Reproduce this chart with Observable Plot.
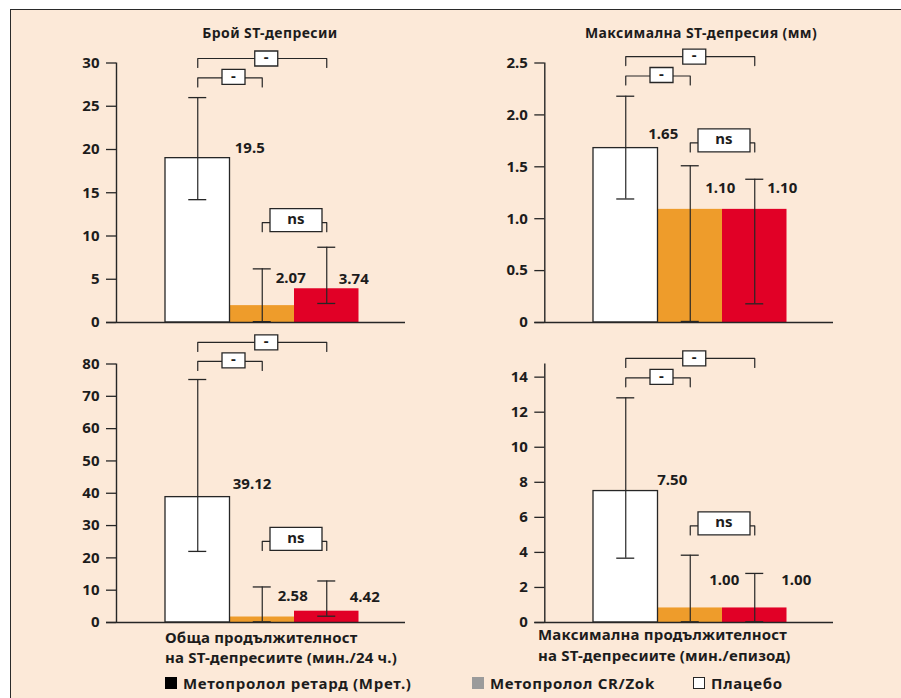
<!DOCTYPE html>
<html lang="bg">
<head>
<meta charset="utf-8">
<script src="https://cdn.jsdelivr.net/npm/d3@7"></script>
<script src="https://cdn.jsdelivr.net/npm/@observablehq/plot@0.6"></script>
<style>
html,body{margin:0;padding:0;background:#fff;}
#root{position:relative;width:901px;height:698px;overflow:hidden;font-family:"Noto Sans",sans-serif;font-weight:bold;color:#1c1c1c;}
#bg{position:absolute;left:10px;top:9px;width:891px;height:689px;background:#fce9d8;border-top:1.5px solid #2a2a2a;border-left:1.5px solid #2a2a2a;box-sizing:border-box;}
.abs{position:absolute;}
.title{font-size:14px;text-align:center;width:360px;line-height:18px;white-space:nowrap;letter-spacing:0.4px;}
.xlab{font-size:15px;line-height:20.5px;white-space:nowrap;letter-spacing:0.2px;}
.leg{font-size:15px;line-height:18px;white-space:nowrap;display:flex;align-items:center;letter-spacing:0.7px;}
.sw{display:inline-block;width:12px;height:12px;margin-right:6px;box-sizing:border-box;}
.panel svg{display:block;}
</style>
</head>
<body>
<div id="root"><div id="bg"></div></div>
<script>
// ---------- data ----------
const groups = ["Плацебо", "Метопролол CR/Zok", "Метопролол ретард"];
const barFills = ["#ffffff", "#ee9c2b", "#e10026"];

const countMean = [19.0, 1.95, 3.9];
const countLow = [14.2, 0.1, 2.2];
const countHigh = [26.0, 6.2, 8.7];
const countText = ["19.5", "2.07", "3.74"];
const countTicks = [0, 5, 10, 15, 20, 25, 30];

const maxDepMean = [1.68, 1.09, 1.09];
const maxDepLow = [1.19, 0.01, 0.18];
const maxDepHigh = [2.18, 1.51, 1.38];
const maxDepText = ["1.65", "1.10", "1.10"];
const maxDepTicks = [0, 0.5, 1, 1.5, 2, 2.5];

const totalMean = [38.8, 1.7, 3.5];
const totalLow = [22.0, 0.2, 1.95];
const totalHigh = [75.2, 11.0, 12.85];
const totalText = ["39.12", "2.58", "4.42"];
const totalTicks = [0, 10, 20, 30, 40, 50, 60, 70, 80];

const maxDurMean = [7.5, 0.83, 0.83];
const maxDurLow = [3.67, 0.04, 0.04];
const maxDurHigh = [12.82, 3.84, 2.8];
const maxDurText = ["7.50", "1.00", "1.00"];
const maxDurTicks = [0, 2, 4, 6, 8, 10, 12, 14];

const yMaxes = [30, 2.5, 80, 14.75];
const sigOuter = [30.52, 2.562, 86.67, 15.07];
const sigInner = [28.27, 2.375, 80.8, 13.96];
const nsLevel = [11.54, 1.73, 25.1, 5.51];
const sigText = ["-", "-", "ns"];

const panelTitles = ["Брой ST-депресии", "Максимална ST-депресия (мм)", "", ""];
const axisTitles = [[], [], ["Обща продължителност", "на ST-депресиите (мин./24 ч.)"],
                    ["Максимална продължителност", "на ST-депресиите (мин./епизод)"]];
const legendLabels = ["Метопролол ретард (Мрет.)", "Метопролол CR/Zok", "Плацебо"];
const legendSwatches = ["#000000", "#9b9b9b", "#ffffff"];

const series = [
  [countMean, countLow, countHigh, countText, countTicks],
  [maxDepMean, maxDepLow, maxDepHigh, maxDepText, maxDepTicks],
  [totalMean, totalLow, totalHigh, totalText, totalTicks],
  [maxDurMean, maxDurLow, maxDurHigh, maxDurText, maxDurTicks]
];

// ---------- layout ----------
const layouts = [
  {left:0, top:40, width:450, height:290, mL:116, mR:45, mT:22.5, mB:8, gap:49, dx:[37,13.5,12], dy:[-10,-27,-10], fmt:d=>String(d)},
  {left:450, top:40, width:451, height:290, mL:94.3, mR:68, mT:22.5, mB:8, gap:48.7, dx:[22.5,15,12.5], dy:[-14,-21,-21], fmt:d=>d===0?"0":d.toFixed(1)},
  {left:0, top:330, width:450, height:300, mL:116, mR:45, mT:33.5, mB:8, gap:49, dx:[35,15.5,23], dy:[-12.7,-20.7,-14], fmt:d=>String(d)},
  {left:450, top:330, width:451, height:300, mL:94.3, mR:68, mT:33.5, mB:8, gap:48.7, dx:[31.5,19,26.5], dy:[-11,-27.7,-27.7], fmt:d=>String(d)}
];
const titlePos = [[270, 24], [701, 24]];
const axisTitlePos = [null, null, [165, 626.5], [538, 624]];
const legendPos = [165, 472, 693];
const ink = "#262626";

const rectSym = (w, h) => ({draw(ctx){ ctx.rect(-w/2, -h/2, w, h); }});

const root = document.getElementById("root");

function panel(p) {
  const L = layouts[p];
  const step = 64.5, u = 1 / step;
  const fw = L.width - L.mL - L.mR;
  const xMin = -0.5 - L.gap * u, xMax = xMin + fw * u;
  const yMax = yMaxes[p];
  const ppu = (L.height - L.mT - L.mB) / yMax;
  const [mean, low, high, text, ticks] = series[p];
  const rows = groups.map((g, i) => ({i, g, v: mean[i], lo: low[i], hi: high[i], t: text[i], fill: barFills[i]}));
  const caps = rows.flatMap(d => [{i: d.i, y: d.lo}, {i: d.i, y: d.hi}]);
  const leg = 9 / ppu;
  const br = [
    {k: 0, a: 0, b: 2, y: sigOuter[p], dx: 4, dy: 0, t: sigText[0]},
    {k: 1, a: 0, b: 1, y: sigInner[p], dx: 3.5, dy: -1, t: sigText[1]},
    {k: 2, a: 1, b: 2, y: nsLevel[p], dx: 1.5, dy: -2.5, t: sigText[2]}
  ];
  const brPts = br.flatMap(b => [
    {k: b.k, x: b.a, y: b.y - leg}, {k: b.k, x: b.a, y: b.y},
    {k: b.k, x: b.b, y: b.y}, {k: b.k, x: b.b, y: b.y - leg}
  ]);
  const boxes = br.map(b => ({k: b.k, t: b.t, x: (b.a + b.b) / 2 + b.dx * u, y: b.y - b.dy / ppu}));

  const chart = Plot.plot({
    width: L.width, height: L.height,
    marginLeft: L.mL, marginRight: L.mR, marginTop: L.mT, marginBottom: L.mB,
    x: {domain: [xMin, xMax], axis: null},
    y: {domain: [0, yMax], axis: null},
    style: {background: "transparent", fontFamily: '"Noto Sans", sans-serif', fontSize: "15px", fontWeight: "bold", color: "#1c1c1c", overflow: "visible"},
    marks: [
      Plot.rectY(rows, {x1: d => d.i - 0.5, x2: d => d.i + 0.5, y1: 0, y2: "v", fill: "fill"}),
      Plot.rectY(rows.filter(d => d.i === 0), {x1: d => d.i - 0.5, x2: d => d.i + 0.5, y1: 0, y2: "v", fill: "none", stroke: ink, strokeWidth: 1.3}),
      Plot.ruleY([0], {x1: xMin - 10 * u, x2: xMax, stroke: ink, strokeWidth: 1.4}),
      Plot.ruleX([xMin], {y1: 0, y2: yMax, stroke: ink, strokeWidth: 1.4}),
      Plot.axisY({ticks, tickFormat: L.fmt, tickSize: 10, tickPadding: 7, label: null, stroke: ink, strokeWidth: 1.3, fontSize: 15, fontWeight: "bold"}),
      Plot.ruleX(rows, {x: "i", y1: "lo", y2: "hi", stroke: ink, strokeWidth: 1.2}),
      Plot.ruleY(caps, {x1: d => d.i - 9 * u, x2: d => d.i + 9 * u, y: "y", stroke: ink, strokeWidth: 1.3}),
      Plot.line(brPts, {x: "x", y: "y", z: "k", stroke: ink, strokeWidth: 1.2}),
      Plot.dot(boxes.filter(b => b.k < 2), {x: "x", y: "y", r: 5, symbol: rectSym(23, 15), fill: "white", stroke: ink, strokeWidth: 1.3}),
      Plot.dot(boxes.filter(b => b.k === 2), {x: "x", y: "y", r: 5, symbol: rectSym(52, 23), fill: "white", stroke: ink, strokeWidth: 1.3}),
      Plot.text(boxes, {x: "x", y: "y", text: "t", fontSize: 15, fontWeight: "bold", dy: -1}),
      Plot.text(rows, {x: d => d.i + L.dx[d.i] * u, y: d => d.v - L.dy[d.i] / ppu, text: "t", textAnchor: "start", fontSize: 15, fontWeight: "bold"})
    ]
  });
  const wrap = document.createElement("div");
  wrap.className = "abs panel";
  wrap.style.left = L.left + "px";
  wrap.style.top = L.top + "px";
  wrap.appendChild(chart);
  root.appendChild(wrap);
}

[0, 1, 2, 3].forEach(panel);

panelTitles.forEach((t, p) => {
  if (!t) return;
  const d = document.createElement("div");
  d.className = "abs title";
  d.style.left = (titlePos[p][0] - 180) + "px";
  d.style.top = titlePos[p][1] + "px";
  d.textContent = t;
  root.appendChild(d);
});

axisTitles.forEach((lines, p) => {
  if (!lines.length) return;
  const d = document.createElement("div");
  d.className = "abs xlab";
  d.style.left = axisTitlePos[p][0] + "px";
  d.style.top = axisTitlePos[p][1] + "px";
  d.innerHTML = lines.map(s => `<div>${s}</div>`).join("");
  root.appendChild(d);
});

legendLabels.forEach((t, i) => {
  const d = document.createElement("div");
  d.className = "abs leg";
  d.style.left = legendPos[i] + "px";
  d.style.top = "674px";
  const sw = document.createElement("span");
  sw.className = "sw";
  sw.style.background = legendSwatches[i];
  if (legendSwatches[i] === "#ffffff") sw.style.border = "1.3px solid #262626";
  d.appendChild(sw);
  d.appendChild(document.createTextNode(t));
  root.appendChild(d);
});
</script>
</body>
</html>
